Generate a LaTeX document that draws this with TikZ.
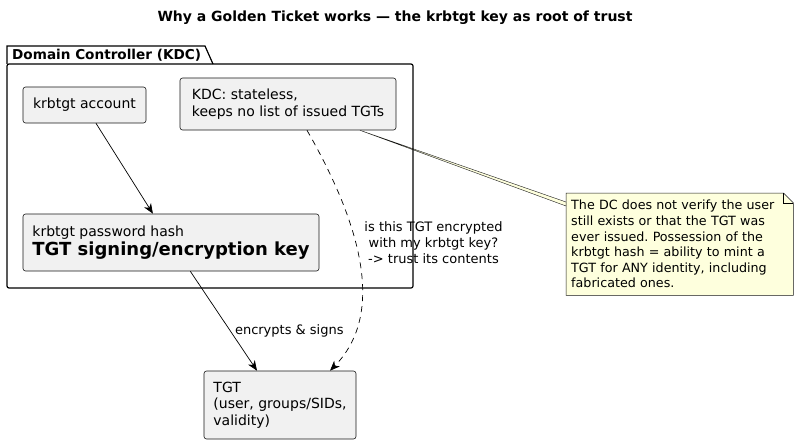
\documentclass[tikz,border=0pt]{standalone}
\usepackage{fontspec}
\setmainfont{DejaVu Sans}
\usetikzlibrary{arrows.meta,calc,backgrounds}
\definecolor{boxfill}{HTML}{F1F1F1}
\definecolor{boxline}{HTML}{181818}
\definecolor{notefill}{HTML}{FEFFDD}
\frenchspacing

\begin{document}
\begin{tikzpicture}[x=1pt,y=-1pt,font=\fontsize{13}{16}\selectfont,
    box/.style={draw=boxline,fill=boxfill,rounded corners=2.5pt,line width=0.6pt,align=left,inner sep=0pt,
        font=\fontsize{14}{16.5}\selectfont},
    >={Stealth[length=10pt,width=8pt,inset=3pt]}]
    \begin{scope}[on background layer]
    \fill[white] (0,0) rectangle (798,444);
    \end{scope}
    \useasboundingbox (0,0) rectangle (798,444);

    \node[font=\fontsize{14}{16}\selectfont\bfseries] (title) at (395,18) {Why a Golden Ticket works — the krbtgt key as root of trust};

    % package frame
    \draw[line width=1.2pt,rounded corners=2pt] (7,64) rectangle (413,288);
    \draw[line width=1.2pt] (7,64) -- (7,46) -- (205,46) -- (213,64);
    \node[font=\fontsize{13.6}{16}\selectfont\bfseries,anchor=west,inner sep=0pt] (pkg) at (12,55.5) {Domain Controller (KDC)};

    \node[box,minimum width=123pt,minimum height=36pt] (account) at (84.5,105) {krbtgt account};
    \node[box,minimum width=216pt,minimum height=52pt] (kdc) at (288,104) {KDC: stateless,\\keeps no list of issued TGTs};
    \node[box,minimum width=296pt,minimum height=57pt] (hash) at (171,242.5) {krbtgt password hash\\[1pt]{\fontsize{18}{20}\selectfont\bfseries TGT signing/encryption key}};
    \node[box,minimum width=152pt,minimum height=68pt] (tgt) at (280,405) {TGT\\(user, groups/SIDs,\\validity)};

    % note
    \node[anchor=north west,minimum width=227pt,minimum height=102pt,text width=217pt,inner xsep=5pt,align=left,
        font=\fontsize{12.7}{15.6}\selectfont] (note) at (566,193)
        {The DC does not verify the user\\still exists or that the TGT was\\ever issued. Possession of the\\krbtgt hash = ability to mint a\\TGT for ANY identity, including\\fabricated ones.};
    \begin{scope}[on background layer]
    \draw[fill=notefill,draw=boxline,line width=0.5pt] (note.north west) -- ($(note.north east)+(-10,0)$) -- ($(note.north east)+(0,10)$) -- (note.south east) -- (note.south west) -- cycle;
    \draw[line width=0.5pt] ($(note.north east)+(-10,0)$) -- ($(note.north east)+(-10,10)$) -- ($(note.north east)+(0,10)$);
    \draw[fill=notefill,draw=boxline,line width=0.4pt] ([xshift=72pt]kdc.south) -- ($(note.north west)+(0,9)$) -- ($(note.north west)+(0,13)$) -- cycle;
    \end{scope}

    \draw [->,line width=0.7pt] (account) -- (hash);
    \draw [->,line width=0.7pt] (hash) -- (tgt) node[pos=0.6,right=1pt] {encrypts \& signs};
    \draw [->,line width=0.7pt,dash pattern=on 6pt off 5pt] ([xshift=19pt]kdc.south) .. controls (370,240) and (380,320) .. ([xshift=50pt]tgt.north);
    \node[align=center] (lbl) at (433.5,243) {is this TGT encrypted\\with my krbtgt key?\\-> trust its contents};
\end{tikzpicture}
\end{document}
